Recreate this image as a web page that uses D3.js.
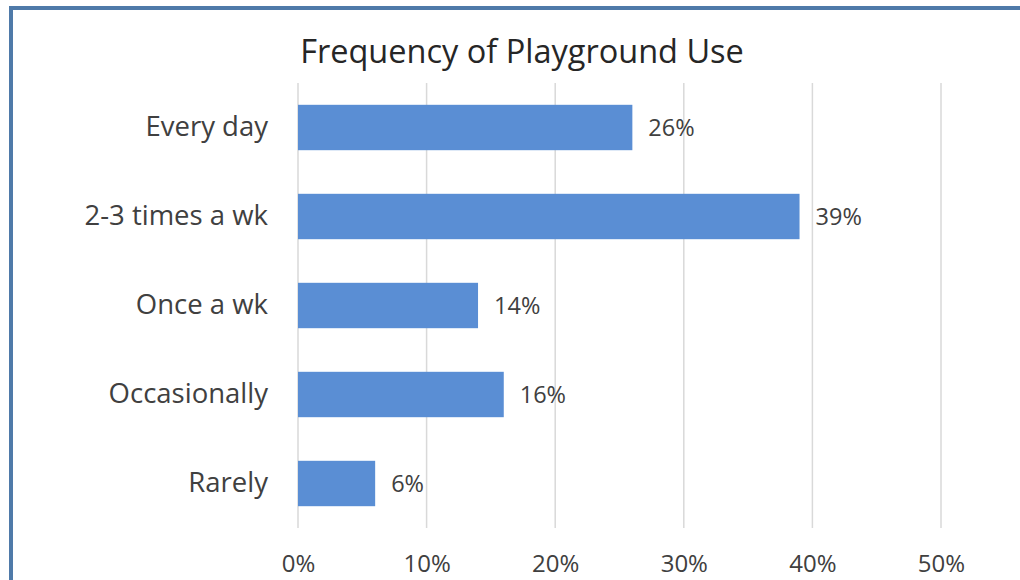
<!DOCTYPE html>
<html><head><meta charset="utf-8">
<script src="https://cdn.jsdelivr.net/npm/d3@7"></script>
<style>body{margin:0;background:#fff}svg{display:block}</style>
</head><body>
<svg id="c" width="1020" height="580"></svg>
<script>
const categories = ["Every day", "2-3 times a wk", "Once a wk", "Occasionally", "Rarely"];
const values = [0.26, 0.39, 0.14, 0.16, 0.06];
const ticks = [0, 0.1, 0.2, 0.3, 0.4, 0.5];
const title = "Frequency of Playground Use";

const svg = d3.select("#c");
const font = "'Open Sans', 'Noto Sans', sans-serif";
// frame
svg.append("rect").attr("x", 0).attr("y", 0).attr("width", 1020).attr("height", 580).attr("fill", "#fff");
svg.append("line").attr("x1", 9).attr("x2", 1020).attr("y1", 8).attr("y2", 8).attr("stroke", "#4f7aa9").attr("stroke-width", 4);
svg.append("line").attr("x1", 11).attr("x2", 11).attr("y1", 6).attr("y2", 580).attr("stroke", "#4f7aa9").attr("stroke-width", 4);

const x = d3.scaleLinear().domain([0, 0.5]).range([298, 941]);
const y = d3.scaleBand().domain(categories).range([83, 528]).paddingInner(0.49).paddingOuter(0.245);

// gridlines
svg.append("g").selectAll("line").data(ticks).join("line")
  .attr("x1", d => x(d)).attr("x2", d => x(d)).attr("y1", 83).attr("y2", 528)
  .attr("stroke", "#d9d9d9").attr("stroke-width", 1.5);

// title
svg.append("text").attr("x", 522).attr("y", 63).attr("text-anchor", "middle")
  .attr("font-family", font).attr("font-size", 32.5).attr("fill", "#262626").text(title);

// bars
svg.append("g").selectAll("rect").data(categories).join("rect")
  .attr("x", x(0)).attr("y", d => y(d)).attr("height", y.bandwidth())
  .attr("width", (d, i) => x(values[i]) - x(0)).attr("fill", "#5a8ed4");

// value labels
svg.append("g").selectAll("text").data(categories).join("text")
  .attr("x", (d, i) => x(values[i]) + 16).attr("y", d => y(d) + y.bandwidth() / 2)
  .attr("dy", "0.35em").attr("font-family", font).attr("font-size", 23.5).attr("fill", "#404040")
  .text((d, i) => d3.format(".0%")(values[i]));

// category axis labels
const yAxis = d3.axisLeft(y).tickSize(0).tickPadding(30);
const gy = svg.append("g").attr("transform", `translate(${x(0)},0)`).call(yAxis);
gy.select(".domain").remove();
gy.selectAll("text").attr("font-family", font).attr("font-size", 27.5).attr("fill", "#404040");

// x axis labels
const xAxis = d3.axisBottom(x).tickValues(ticks).tickFormat(d3.format(".0%")).tickSize(0).tickPadding(27);
const gx = svg.append("g").attr("transform", `translate(0,528)`).call(xAxis);
gx.select(".domain").remove();
gx.selectAll("text").attr("font-family", font).attr("font-size", 24).attr("fill", "#404040");
</script>
</body></html>
